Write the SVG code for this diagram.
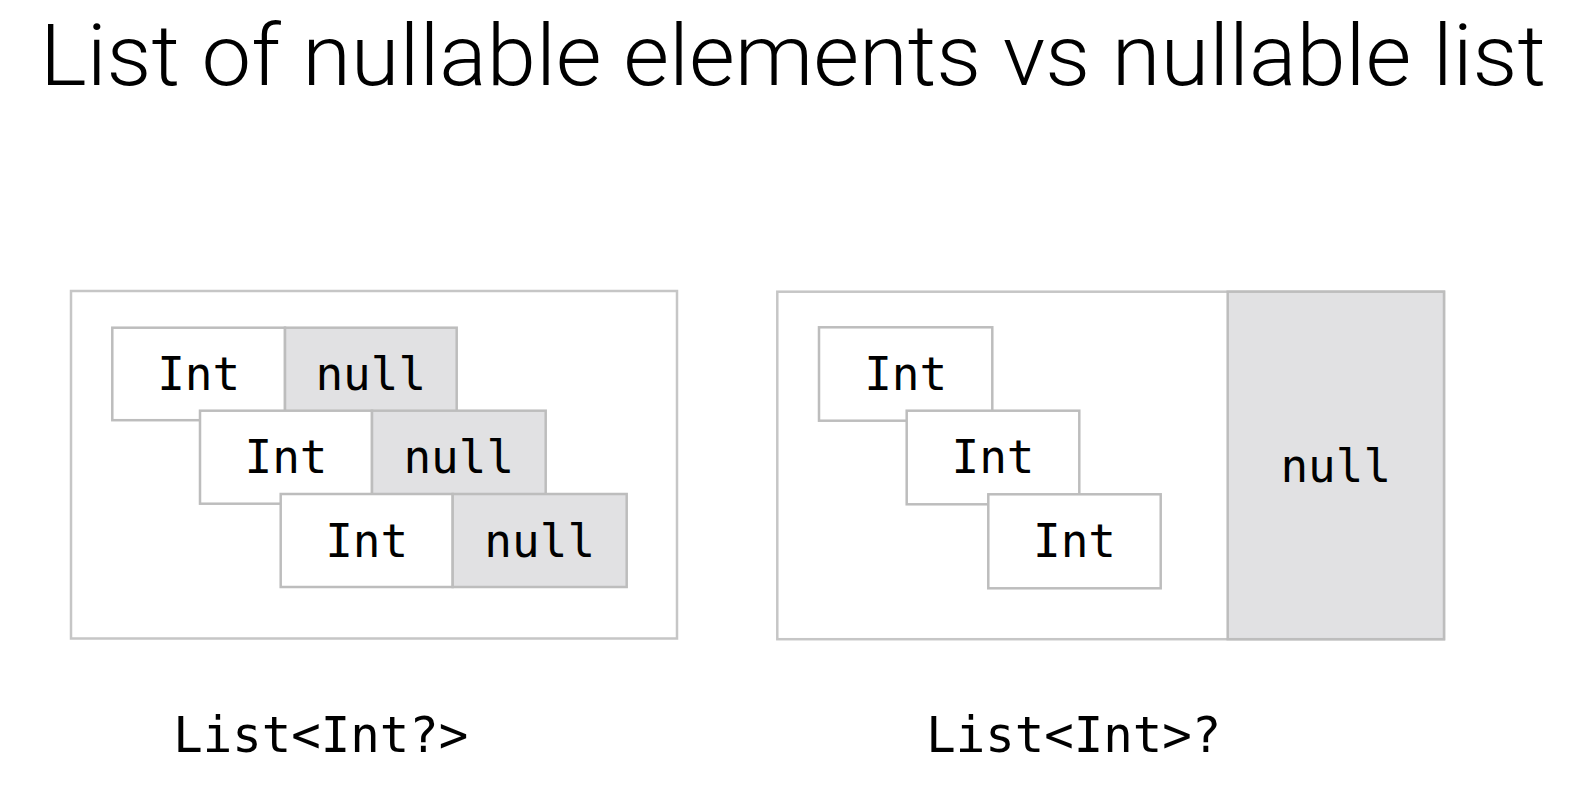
<svg xmlns="http://www.w3.org/2000/svg" width="1582" height="810" viewBox="0 0 1582 810">
<style>
.title{font-family:Roboto,"Liberation Sans",sans-serif;font-weight:300;font-size:86px;fill:#000}
.mono{font-family:"DejaVu Sans Mono","Liberation Mono",monospace;fill:#000;text-anchor:middle}
.cell{font-size:46px}
.label{font-size:49px}
.outer{fill:#fff;stroke:#c6c6c6;stroke-width:2.5}
.val{fill:#fff;stroke:#bdbdbd;stroke-width:2.5}
.nul{fill:#e1e1e3;stroke:#bdbdbd;stroke-width:2.5}
</style>
<rect width="1582" height="810" fill="#fff"/>
<text class="title" x="40" y="85" textLength="1506" lengthAdjust="spacingAndGlyphs">List of nullable elements vs nullable list</text>

<g id="list-of-nullable">
<rect class="outer" x="71" y="291" width="606" height="347.5"/>
<g id="l-row1">
<rect class="val" x="112.3" y="327.7" width="172.7" height="92.5"/>
<rect class="nul" x="285" y="327.7" width="171.7" height="92.5"/>
<text class="mono cell" x="198.7" y="390">Int</text>
<text class="mono cell" x="370.8" y="390">null</text>
</g>
<g id="l-row2">
<rect class="val" x="200" y="410.7" width="172" height="93"/>
<rect class="nul" x="372" y="410.7" width="173.7" height="93"/>
<text class="mono cell" x="286" y="473.2">Int</text>
<text class="mono cell" x="458.8" y="473.2">null</text>
</g>
<g id="l-row3">
<rect class="val" x="280.7" y="494" width="172" height="93"/>
<rect class="nul" x="452.7" y="494" width="174" height="93"/>
<text class="mono cell" x="366.7" y="556.5">Int</text>
<text class="mono cell" x="539.7" y="556.5">null</text>
</g>
</g>

<g id="nullable-list">
<rect class="outer" x="777.3" y="291.7" width="666.7" height="347.5"/>
<rect id="r-null" class="nul" x="1227.7" y="291.7" width="216.3" height="347.5"/>
<text class="mono cell" x="1335.8" y="481.7">null</text>
<g id="r-int1">
<rect class="val" x="819" y="327.3" width="173.3" height="93.4"/>
<text class="mono cell" x="905.7" y="389.8">Int</text>
</g>
<g id="r-int2">
<rect class="val" x="906.7" y="410.7" width="172.6" height="93.6"/>
<text class="mono cell" x="993" y="473.2">Int</text>
</g>
<g id="r-int3">
<rect class="val" x="988.3" y="494.3" width="172.4" height="94"/>
<text class="mono cell" x="1074.5" y="556.8">Int</text>
</g>
</g>

<g id="labels">
<text class="mono label" x="320.8" y="751.5">List&lt;Int?&gt;</text>
<text class="mono label" x="1073.7" y="751.5">List&lt;Int&gt;?</text>
</g>
<g id="connectors"/>
</svg>
